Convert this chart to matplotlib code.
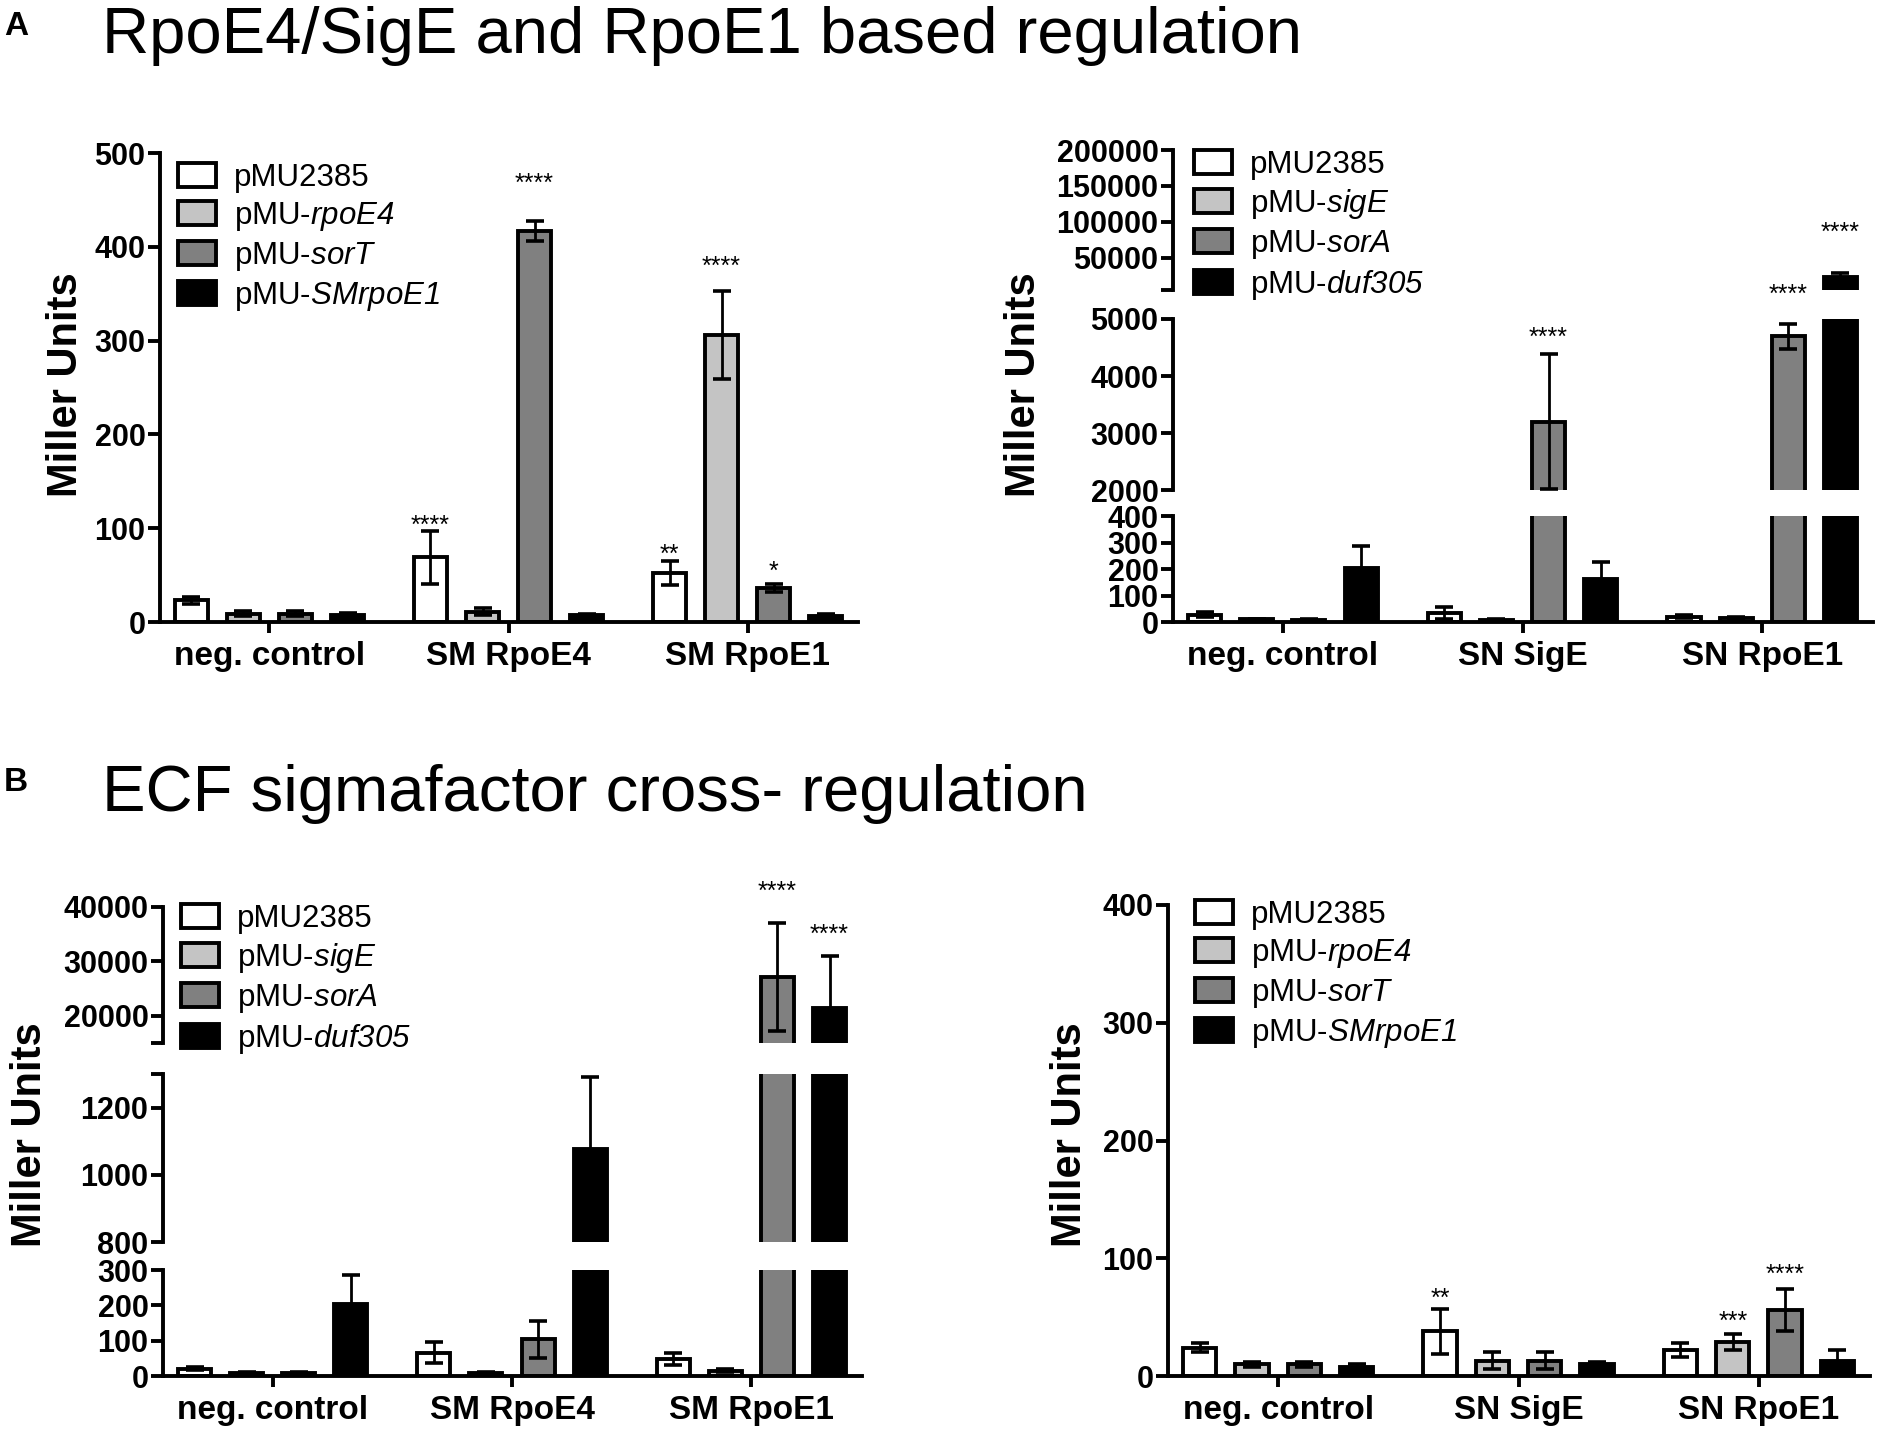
import matplotlib
matplotlib.use('Agg')
import matplotlib.pyplot as plt
from matplotlib.patches import Patch
import numpy as np

plt.rcParams['font.family'] = ['Liberation Sans', 'DejaVu Sans']
plt.rcParams['mathtext.fontset'] = 'custom'
plt.rcParams['mathtext.it'] = 'Liberation Sans:italic'
plt.rcParams['mathtext.rm'] = 'Liberation Sans:italic'

# ---------------- data ----------------
# Panel A (left)
a1_groups = ['neg. control', 'SM RpoE4', 'SM RpoE1']
a1_series = ['pMU2385', r'pMU-$\mathit{rpoE4}$', r'pMU-$\mathit{sorT}$', r'pMU-$\mathit{SMrpoE1}$']
a1_pMU2385 = [23, 69, 52]
a1_pMU2385_err = [4, 28, 13]
a1_rpoE4 = [9, 11, 306]
a1_rpoE4_err = [3, 3.5, 47]
a1_sorT = [9, 417, 36]
a1_sorT_err = [3, 11, 4]
a1_SMrpoE1 = [7, 7, 6.5]
a1_SMrpoE1_err = [2.5, 2, 2]
a1_stars = [(1, 0, 108, '****'), (1, 2, 472, '****'), (2, 0, 77, '**'),
            (2, 1, 384, '****'), (2, 2, 59, '*')]

# Panel A (right)
a2_groups = ['neg. control', 'SN SigE', 'SN RpoE1']
a2_series = ['pMU2385', r'pMU-$\mathit{sigE}$', r'pMU-$\mathit{sorA}$', r'pMU-$\mathit{duf305}$']
a2_pMU2385 = [28, 33, 20]
a2_pMU2385_err = [9, 22, 6]
a2_sigE = [10, 8, 15]
a2_sigE_err = [3, 3, 4]
a2_sorA = [9, 3200, 4700]
a2_sorA_err = [3, 1180, 220]
a2_duf305 = [205, 163, 23000]
a2_duf305_err = [80, 62, 5700]
a2_stars = [(1, 2, 4750, '****'), (2, 2, 5490, '****'), (2, 3, 92000, '****')]

# Panel B (left)
b1_groups = ['neg. control', 'SM RpoE4', 'SM RpoE1']
b1_series = ['pMU2385', r'pMU-$\mathit{sigE}$', r'pMU-$\mathit{sorA}$', r'pMU-$\mathit{duf305}$']
b1_pMU2385 = [21, 66, 48]
b1_pMU2385_err = [5, 29, 16]
b1_sigE = [8, 9, 15]
b1_sigE_err = [2, 2, 4]
b1_sorA = [8, 104, 27100]
b1_sorA_err = [2, 52, 9900]
b1_duf305 = [204, 1077, 21500]
b1_duf305_err = [83, 214, 9500]
b1_stars = [(2, 2, 43700, '****'), (2, 3, 35800, '****')]

# Panel B (right)
b2_groups = ['neg. control', 'SN SigE', 'SN RpoE1']
b2_series = ['pMU2385', r'pMU-$\mathit{rpoE4}$', r'pMU-$\mathit{sorT}$', r'pMU-$\mathit{SMrpoE1}$']
b2_pMU2385 = [24, 38, 22]
b2_pMU2385_err = [4, 19, 6]
b2_rpoE4 = [10, 13, 29]
b2_rpoE4_err = [2, 7, 7]
b2_sorT = [10, 13, 56]
b2_sorT_err = [2, 7, 18]
b2_SMrpoE1 = [8, 10, 13]
b2_SMrpoE1_err = [2, 2, 9]
b2_stars = [(1, 0, 70, '**'), (2, 1, 50, '***'), (2, 2, 90, '****')]

# ---------------- style ----------------
W, H = 1879, 1433
fig = plt.figure(figsize=(W / 100, H / 100), dpi=100)
COLORS = ['white', '#c4c4c4', '#808080', 'black']
LW = 2.8


def fx(px):
    return px / W


def fy(py):
    return 1 - py / H


def draw_panel(groups, labels, means, errs, segments, xpix, stars, legend_px, ylabel_px):
    x0, x1 = xpix
    gx = np.arange(len(groups))
    offsets = (np.arange(4) - 1.5) * 0.2176
    width = 0.138
    axes = []
    nseg = len(segments)
    for i, (ylo, yhi, ptop, pbot, ticks, tlabels) in enumerate(segments):
        ax = fig.add_axes([fx(x0), fy(pbot), fx(x1) - fx(x0), (pbot - ptop) / H])
        ax.set_facecolor('none')
        for s in range(4):
            m = np.asarray(means[s], dtype=float)
            e = np.asarray(errs[s], dtype=float)
            xs = gx + offsets[s]
            # bars whose top lies below this segment do not reach it
            show = m > ylo
            if show.any():
                ax.bar(xs[show], m[show], width, color=COLORS[s],
                       edgecolor='black', linewidth=LW, zorder=2)
            keep = (m + e >= ylo) & (m - e <= yhi)
            if keep.any():
                ax.errorbar(xs[keep], m[keep], yerr=e[keep], fmt='none',
                            ecolor='black', elinewidth=2.0, capsize=6.5,
                            capthick=2.6, zorder=3)
        ax.set_xlim(-0.458, 2.462)
        ax.set_ylim(ylo, yhi)
        for sp in ['top', 'right']:
            ax.spines[sp].set_visible(False)
        ax.spines['left'].set_linewidth(LW)
        ax.spines['bottom'].set_linewidth(LW)
        ax.set_yticks(ticks)
        ax.set_yticklabels(tlabels, fontsize=22, fontweight='bold')
        ax.tick_params(axis='y', length=9, width=LW, pad=1.5)
        if i == nseg - 1:
            ax.set_xticks(gx)
            ax.set_xticklabels(groups, fontsize=24, fontweight='bold')
            ax.tick_params(axis='x', length=8, width=LW, pad=6)
        else:
            ax.spines['bottom'].set_visible(False)
            ax.set_xticks([])
        axes.append(ax)

    for g, s, y, txt in stars:
        target = None
        for ax, seg in zip(axes, segments):
            if seg[0] <= y <= seg[1]:
                target = ax
                break
        if target is None:
            target = axes[0]
        target.annotate(txt, xy=(gx[g] + offsets[s], y), xytext=(0, -3.5),
                        textcoords='offset points', ha='center', va='center',
                        fontsize=18, annotation_clip=False, zorder=5)

    handles = [Patch(facecolor=c, edgecolor='black', linewidth=LW) for c in COLORS]
    axes[0].legend(handles, labels, loc='upper left',
                   bbox_to_anchor=(fx(legend_px[0]), fy(legend_px[1])),
                   bbox_transform=fig.transFigure, frameon=False, fontsize=22.5,
                   handlelength=1.2, handleheight=0.8, labelspacing=0.22,
                   handletextpad=0.6, borderpad=0, borderaxespad=0)
    fig.text(fx(ylabel_px[0]), fy(ylabel_px[1]), 'Miller Units', rotation=90,
             ha='center', va='center', fontsize=30, fontweight='bold')
    return axes


def lbl(ticks):
    return [str(t) for t in ticks]


# Panel A left
t = [0, 100, 200, 300, 400, 500]
draw_panel(a1_groups, a1_series,
           [a1_pMU2385, a1_rpoE4, a1_sorT, a1_SMrpoE1],
           [a1_pMU2385_err, a1_rpoE4_err, a1_sorT_err, a1_SMrpoE1_err],
           [(0, 500, 153, 622, t, lbl(t))],
           (160, 858), a1_stars, (178, 163), (66, 385))

# Panel A right
draw_panel(a2_groups, a2_series,
           [a2_pMU2385, a2_sigE, a2_sorA, a2_duf305],
           [a2_pMU2385_err, a2_sigE_err, a2_sorA_err, a2_duf305_err],
           [(5000, 200000, 150, 290, [5000, 50000, 100000, 150000, 200000],
             ['', '50000', '100000', '150000', '200000']),
            (2000, 5000, 319, 490, [2000, 3000, 4000, 5000], lbl([2000, 3000, 4000, 5000])),
            (0, 400, 516, 622, [0, 100, 200, 300, 400], lbl([0, 100, 200, 300, 400]))],
           (1173, 1873), a2_stars, (1194, 150), (1024, 385))

# Panel B left
draw_panel(b1_groups, b1_series,
           [b1_pMU2385, b1_sigE, b1_sorA, b1_duf305],
           [b1_pMU2385_err, b1_sigE_err, b1_sorA_err, b1_duf305_err],
           [(15000, 40000, 907, 1043, [15000, 20000, 30000, 40000],
             ['', '20000', '30000', '40000']),
            (800, 1300, 1074, 1242, [800, 1000, 1200, 1300], ['800', '1000', '1200', '']),
            (0, 300, 1270, 1376, [0, 100, 200, 300], lbl([0, 100, 200, 300]))],
           (163, 862), b1_stars, (181, 904), (30, 1135))

# Panel B right
t = [0, 100, 200, 300, 400]
draw_panel(b2_groups, b2_series,
           [b2_pMU2385, b2_rpoE4, b2_sorT, b2_SMrpoE1],
           [b2_pMU2385_err, b2_rpoE4_err, b2_sorT_err, b2_SMrpoE1_err],
           [(0, 400, 905, 1376, t, lbl(t))],
           (1168, 1870), b2_stars, (1195, 900), (1070, 1135))

# Titles
fig.text(fx(4), fy(35), 'A', fontsize=24, fontweight='bold', ha='left', va='baseline')
fig.text(fx(102), fy(53), 'RpoE4/SigE and RpoE1 based regulation', fontsize=47,
         ha='left', va='baseline')
fig.text(fx(4), fy(791), 'B', fontsize=24, fontweight='bold', ha='left', va='baseline')
fig.text(fx(102), fy(811), 'ECF sigmafactor cross- regulation', fontsize=47,
         ha='left', va='baseline')

fig.savefig('out.png', dpi=100)
